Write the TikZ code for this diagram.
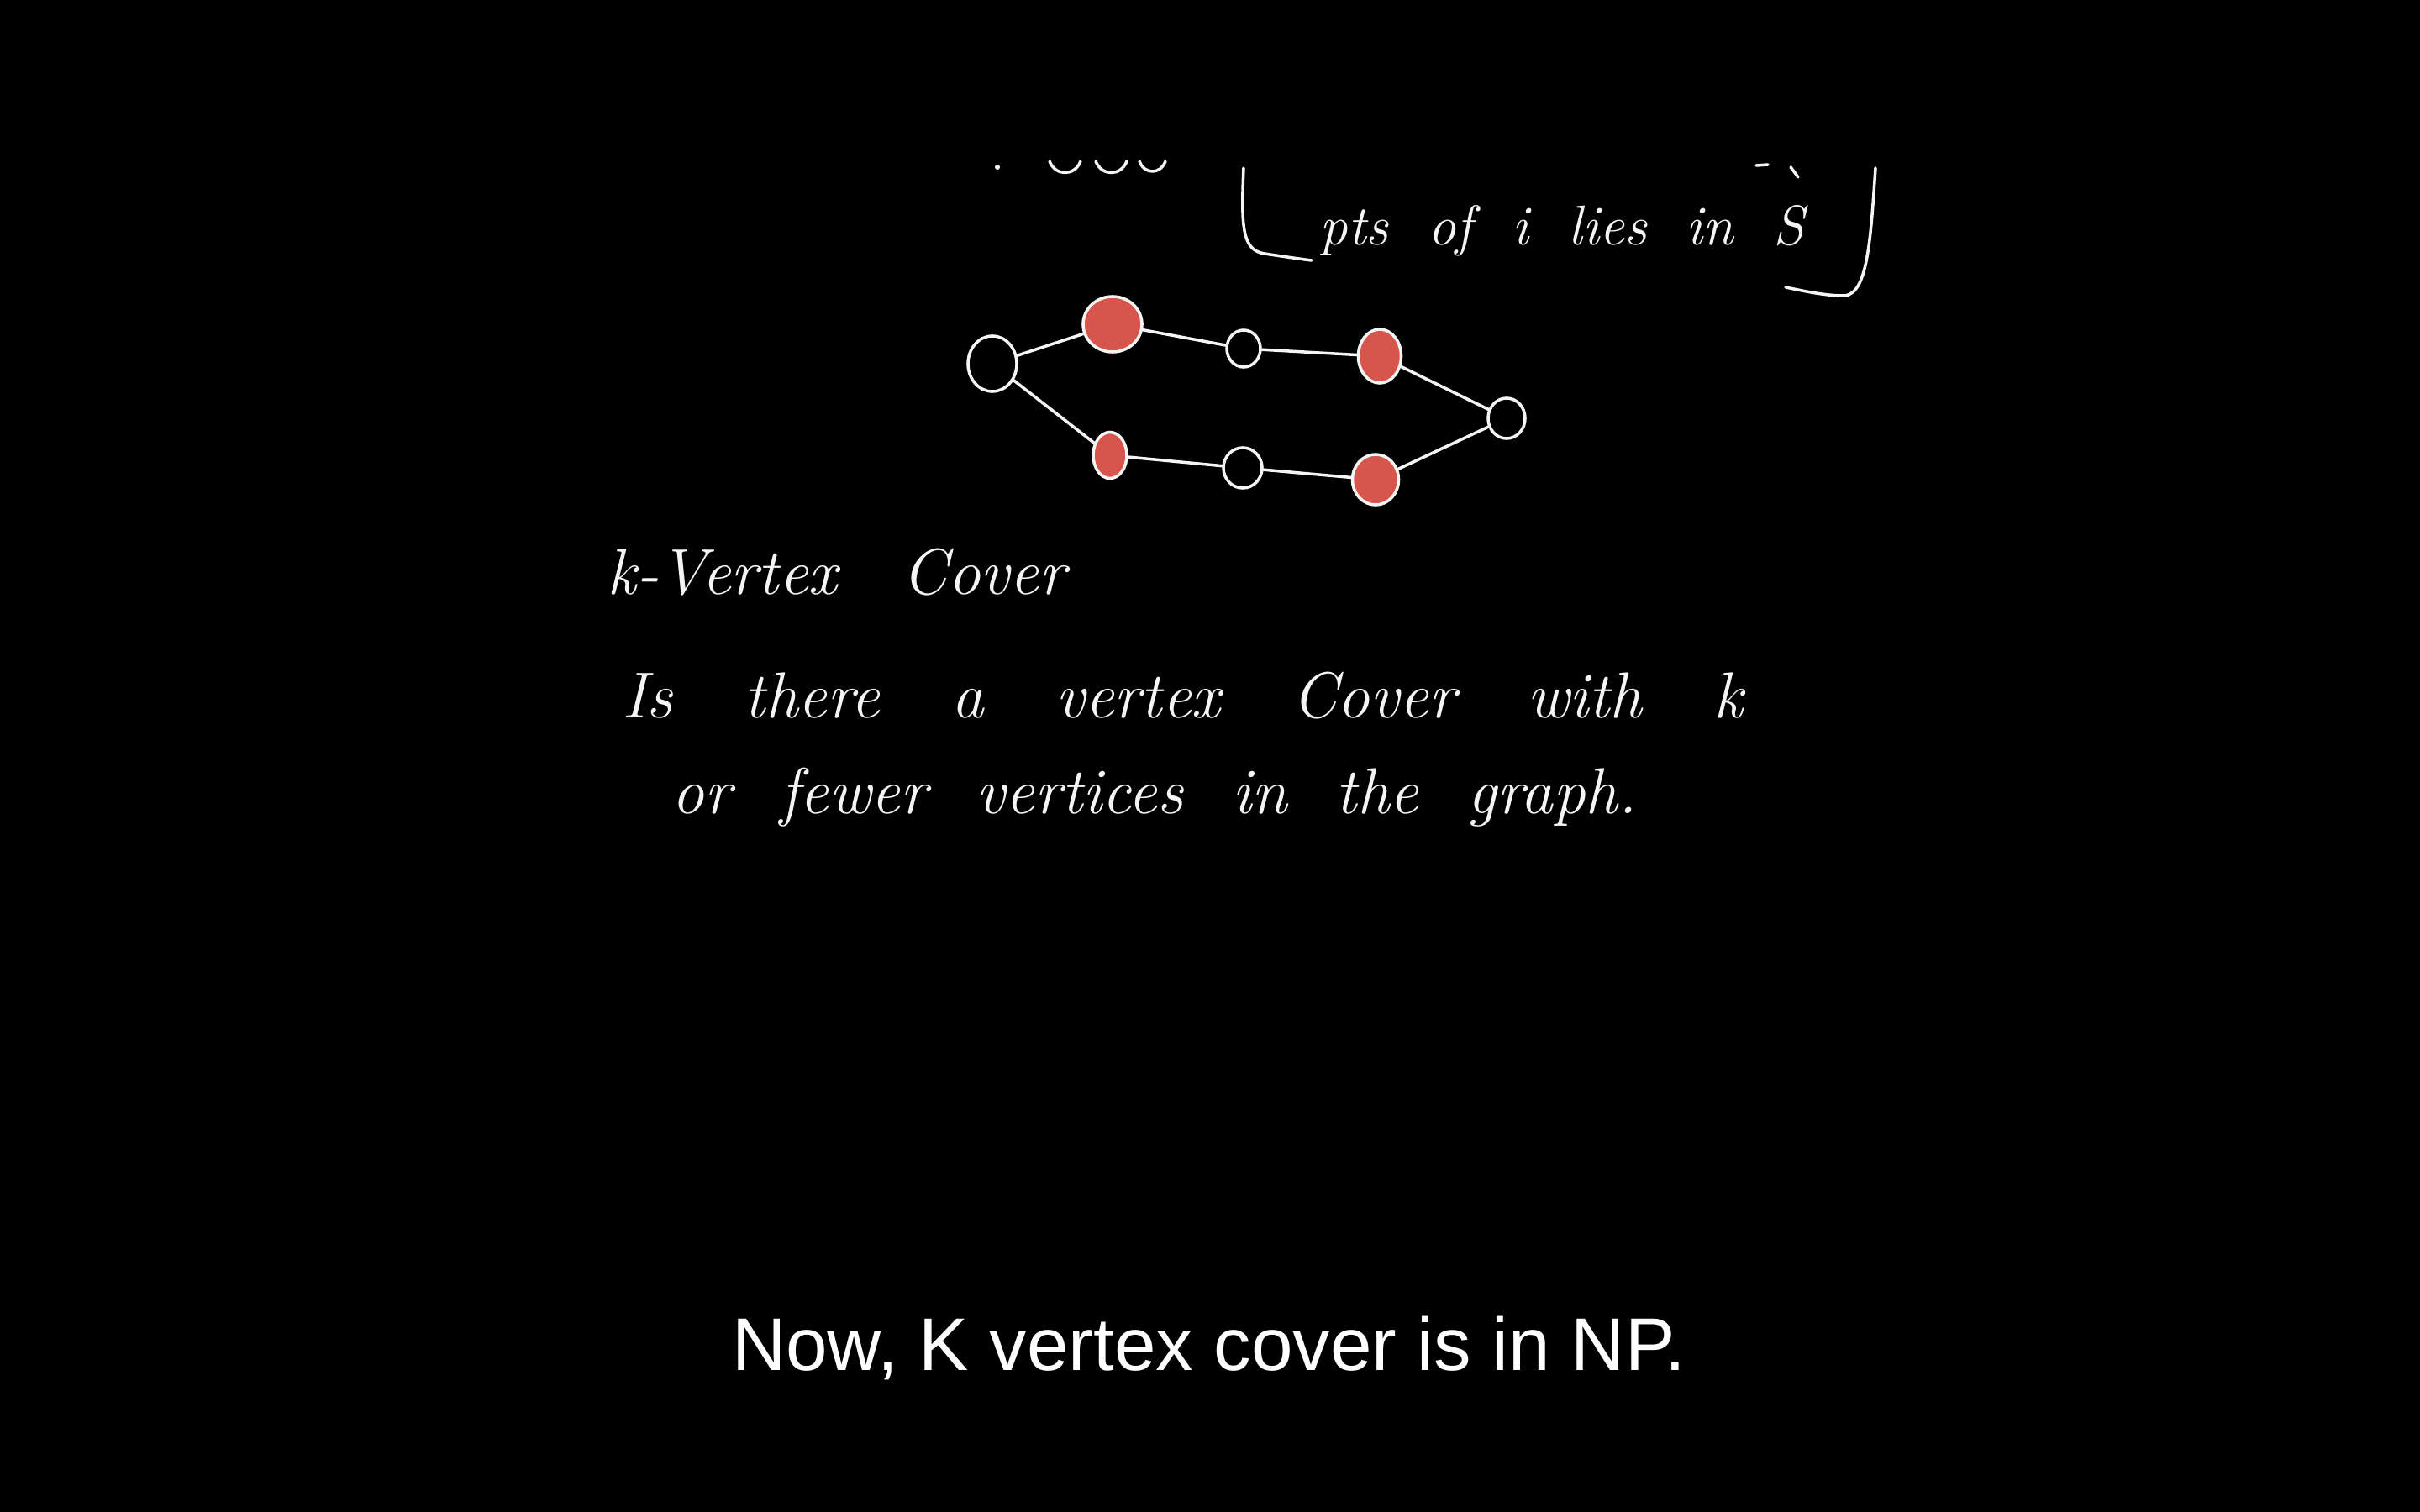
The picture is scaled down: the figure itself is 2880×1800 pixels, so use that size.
\documentclass[tikz,border=0pt]{standalone}
\usepackage{fontspec}
\newfontfamily\capfont{Liberation Sans}
\usepackage{xcolor}
\definecolor{board}{RGB}{0,0,0}
\definecolor{chalk}{RGB}{245,245,245}
\definecolor{marker}{RGB}{214,86,78}
\usetikzlibrary{shapes.geometric}
\newcommand\handfont[2][1em]{\fontsize{#2pt}{#2pt}\selectfont\itshape\spaceskip=#1\relax}

\begin{document}
\begin{tikzpicture}[x=0.01cm,y=-0.01cm,
  vtx/.style={ellipse,draw=chalk,line width=1pt,inner sep=0pt},
  covered/.style={vtx,fill=marker},
  edge/.style={draw=chalk,line width=1pt,line cap=round},
  stroke/.style={draw=chalk,line width=1pt,line cap=round,line join=round},
  hand/.style={anchor=base west,inner sep=0pt,text=chalk,font=\handfont{#1}},
  hand/.default=22,
]
  \fill[board] (0,0) rectangle (2880,1800);

  % strokes cut off at the top edge
  \fill[chalk] (1187,199) circle (3);
  \draw[stroke] (1249,192) .. controls (1256,210) and (1279,210) .. (1286,192);
  \draw[stroke] (1304,192) .. controls (1311,210) and (1334,210) .. (1341,192);
  \draw[stroke] (1356,192) .. controls (1362,208) and (1381,208) .. (1387,192);
  \draw[stroke] (2090,197) -- (2104,196);
  \draw[stroke] (2131,199) -- (2140,211);

  % bracketed note
  \node[hand,font={\handfont[0.7em]{19}}] (note) at (1570,292) {pts of i lies in S};
  \draw[stroke] (1480,200) .. controls (1477,270) and (1478,298) .. (1505,302)
    .. controls (1525,305) and (1545,308) .. (1561,310);
  \draw[stroke] (2232,200) .. controls (2226,290) and (2222,350) .. (2195,352)
    .. controls (2170,352) and (2145,346) .. (2125,342);

  % graph
  \node[vtx,minimum width=0.58cm,minimum height=0.66cm] (a) at (1181,433) {};
  \node[covered,minimum width=0.70cm,minimum height=0.66cm] (b) at (1324,386) {};
  \node[vtx,minimum width=0.40cm,minimum height=0.44cm] (c) at (1480,415) {};
  \node[covered,minimum width=0.51cm,minimum height=0.64cm] (d) at (1642,424) {};
  \node[vtx,minimum width=0.44cm,minimum height=0.48cm] (e) at (1793,498) {};
  \node[covered,minimum width=0.40cm,minimum height=0.55cm] (f) at (1321,542) {};
  \node[vtx,minimum width=0.46cm,minimum height=0.48cm] (g) at (1479,557) {};
  \node[covered,minimum width=0.55cm,minimum height=0.60cm] (h) at (1637,571) {};
  \draw[edge] (a) -- (b) -- (c) -- (d) -- (e);
  \draw[edge] (a) -- (f) -- (g) -- (h) -- (e);

  % problem statement
  \node[hand] (title) at (722,707) {k-Vertex Cover};
  \node[hand,font={\handfont[1.1em]{22}}] (ask1) at (740,854) {Is there a vertex Cover with k};
  \node[hand,font={\handfont[0.75em]{22}}] (ask2) at (799,968) {or fewer vertices in the graph.};

  % caption
  \node[anchor=base,inner sep=0pt,text=white,
    font=\capfont\fontsize{25.3}{30}\selectfont] (caption) at (1439,1631)
    {Now, K vertex cover is in NP.};
\end{tikzpicture}
\end{document}
